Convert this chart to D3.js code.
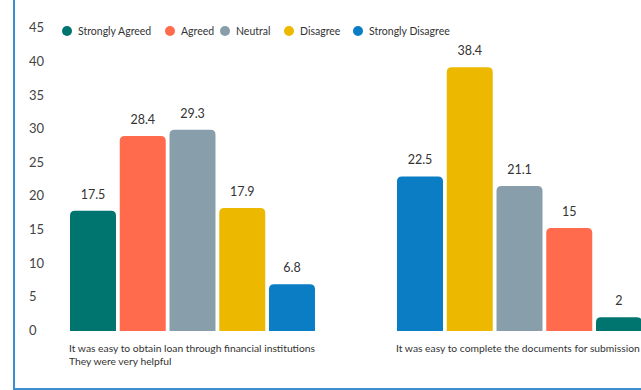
<!DOCTYPE html>
<html><head><meta charset="utf-8">
<script src="https://cdn.jsdelivr.net/npm/d3@7"></script>
<style>
html,body{margin:0;padding:0;background:#fff;overflow:hidden}
svg{display:block;font-family:Lato,"Open Sans",sans-serif}
</style></head>
<body><svg id="c" width="641" height="390"></svg>
<script>
const categories = ["It was easy to obtain loan through financial institutions\nThey were very helpful",
                    "It was easy to complete the documents for submission"];
const seriesNames = ["Strongly Agreed","Agreed","Neutral","Disagree","Strongly Disagree"];
const seriesColors = ["#00756F","#FF6B4C","#889FAB","#EDB800","#0B7DC5"];
const stronglyAgreed = [17.5, 2];
const agreed = [28.4, 15];
const neutral = [29.3, 21.1];
const disagree = [17.9, 38.4];
const stronglyDisagree = [6.8, 22.5];
const barOrder = [
  ["Strongly Agreed","Agreed","Neutral","Disagree","Strongly Disagree"],
  ["Strongly Disagree","Disagree","Neutral","Agreed","Strongly Agreed"]
];
const yTicks = [0,5,10,15,20,25,30,35,40,45];

const values = {"Strongly Agreed":stronglyAgreed,"Agreed":agreed,"Neutral":neutral,"Disagree":disagree,"Strongly Disagree":stronglyDisagree};
const color = d3.scaleOrdinal().domain(seriesNames).range(seriesColors);

const svg = d3.select("#c");
// frame lines
svg.append("line").attr("x1",14).attr("x2",14).attr("y1",0).attr("y2",390).attr("stroke","#3A8FD0").attr("stroke-width",2);
svg.append("line").attr("x1",14).attr("x2",641).attr("y1",389).attr("y2",389).attr("stroke","#3A8FD0").attr("stroke-width",2);

// bar scale and (slightly different) axis label scale, as in the original graphic
const y = d3.scaleLinear().domain([0,45]).range([331,21.9]);
const yLabel = d3.scaleLinear().domain([0,45]).range([329.8,27.3]);
const x0 = d3.scaleBand().domain(categories).range([70,642]).paddingInner(0.2508).paddingOuter(0);
const x1 = d3.scaleBand().domain(d3.range(5)).range([0,x0.bandwidth()]).paddingInner(0.0755).paddingOuter(0);

// y axis labels
const yAxis = d3.axisLeft(yLabel).tickValues(yTicks).tickSize(0).tickPadding(0);
const ga = svg.append("g").attr("transform","translate(29,0)").call(yAxis);
ga.select(".domain").remove();
ga.selectAll("text").attr("text-anchor","start").attr("font-size",13).attr("fill","#444").attr("font-family","Lato,sans-serif").attr("dy","0.35em").attr("dx",0);

function roundTop(xp,yp,w,h,r){
  r=Math.min(r,h,w/2);
  return `M${xp},${yp+h}V${yp+r}Q${xp},${yp} ${xp+r},${yp}H${xp+w-r}Q${xp+w},${yp} ${xp+w},${yp+r}V${yp+h}Z`;
}

categories.forEach((cat,ci)=>{
  const g = svg.append("g").attr("transform",`translate(${x0(cat)},0)`);
  barOrder[ci].forEach((s,i)=>{
    const v = values[s][ci];
    const bx = x1(i), bw = x1.bandwidth();
    g.append("path").attr("d",roundTop(bx,y(v),bw,y(0)-y(v),5))
      .attr("fill",color(s));
    g.append("text").attr("x",bx+bw/2).attr("y",y(v)-12).attr("text-anchor","middle")
      .attr("font-size",12.5).attr("fill","#333").text(v);
  });
  const lines = cat.split("\n");
  const t = g.append("text").attr("x",-1).attr("y",352).attr("font-size",10.3).attr("fill","#333");
  lines.forEach((l,li)=>t.append("tspan").attr("x",-1).attr("dy",li?13:0).text(l));
});

// legend
const legX = [67,170,225,289,358];
const lg = svg.append("g");
seriesNames.forEach((s,i)=>{
  lg.append("circle").attr("cx",legX[i]).attr("cy",31).attr("r",5).attr("fill",color(s));
  lg.append("text").attr("x",legX[i]+11).attr("y",31).attr("dy","0.35em").attr("font-size",10.5).attr("fill","#333").text(s);
});
</script></body></html>
